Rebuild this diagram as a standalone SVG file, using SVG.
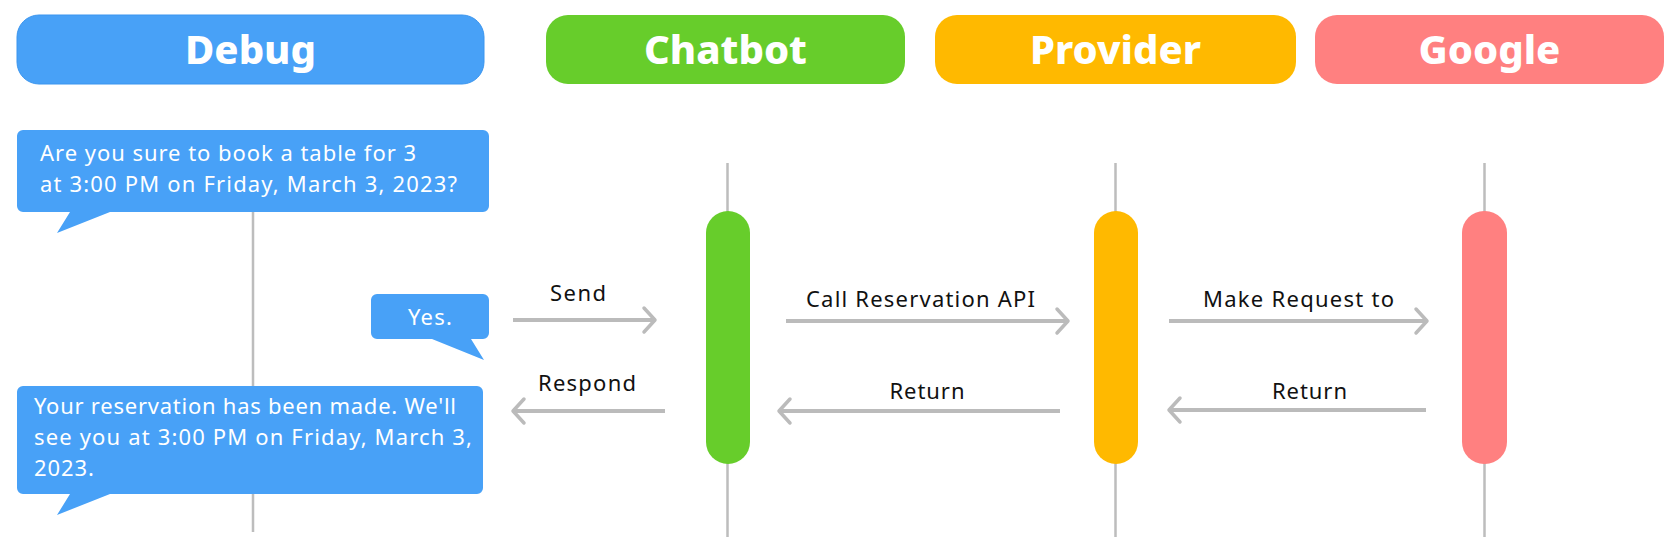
<svg xmlns="http://www.w3.org/2000/svg" width="1680" height="557" viewBox="0 0 1680 557">
<defs>
<marker id="arr" markerUnits="userSpaceOnUse" markerWidth="30" markerHeight="30" viewBox="-15 -15 30 30" refX="0" refY="0" orient="auto">
<path d="M-11,-12 L0,0 L-11,12" fill="none" stroke="#bbbbbb" stroke-width="3.5" stroke-linecap="round" stroke-linejoin="round"/>
</marker>
</defs>
<style>
.hdr{font-family:"Noto Sans","Open Sans",sans-serif;font-weight:800;font-size:40px;fill:#fff;text-anchor:middle}
.bt{font-family:"Noto Sans","Open Sans",sans-serif;font-size:22px;fill:#fff}
.lbl{font-family:"Noto Sans","Open Sans",sans-serif;font-size:22px;fill:#111;text-anchor:middle}
.life{stroke:#bdbdbd;stroke-width:2.5}
.conn{stroke:#bbbbbb;stroke-width:4;fill:none;marker-end:url(#arr)}
.blue{fill:#48a1f7}
</style>
<rect width="1680" height="557" fill="#fff"/>
<g id="lifelines">
<line class="life" x1="253" y1="212" x2="253" y2="532"/>
<line class="life" x1="727.5" y1="163" x2="727.5" y2="537"/>
<line class="life" x1="1115.5" y1="163" x2="1115.5" y2="537"/>
<line class="life" x1="1484.5" y1="163" x2="1484.5" y2="537"/>
</g>
<g id="debug">
<rect x="17" y="15" width="467" height="69" rx="22" fill="#48a1f7" stroke="#3a95ef" stroke-width="1"/>
<text class="hdr" x="250.5" y="64">Debug</text>
</g>
<g id="chatbot">
<rect x="546" y="15" width="359" height="69" rx="22" fill="#67cd2b"/>
<text class="hdr" x="725.5" y="64">Chatbot</text>
<rect x="706" y="211" width="44" height="253" rx="22" fill="#67cd2b"/>
</g>
<g id="provider">
<rect x="935" y="15" width="361" height="69" rx="22" fill="#ffb900"/>
<text class="hdr" x="1115.5" y="64">Provider</text>
<rect x="1094" y="211" width="44" height="253" rx="22" fill="#ffb900"/>
</g>
<g id="google">
<rect x="1315" y="15" width="349" height="69" rx="22" fill="#ff8080"/>
<text class="hdr" x="1489.5" y="64">Google</text>
<rect x="1462" y="211" width="45" height="253" rx="22" fill="#ff8080"/>
</g>
<g id="bubble-confirm">
<path class="blue" d="M23,130 H483 A6,6 0 0 1 489,136 V206 A6,6 0 0 1 483,212 H110 L57,233 L70,212 H23 A6,6 0 0 1 17,206 V136 A6,6 0 0 1 23,130 Z"/>
<text class="bt" x="40" y="161" textLength="376">Are you sure to book a table for 3</text>
<text class="bt" x="40" y="192" textLength="417">at 3:00 PM on Friday, March 3, 2023?</text>
</g>
<g id="bubble-yes">
<path class="blue" d="M377,294 H483 A6,6 0 0 1 489,300 V333 A6,6 0 0 1 483,339 H471 L484,360 L432,339 H377 A6,6 0 0 1 371,333 V300 A6,6 0 0 1 377,294 Z"/>
<text class="bt" x="430" y="325" text-anchor="middle" textLength="44">Yes.</text>
</g>
<g id="bubble-reply">
<path class="blue" d="M23,386 H477 A6,6 0 0 1 483,392 V488 A6,6 0 0 1 477,494 H110 L57,515 L70,494 H23 A6,6 0 0 1 17,488 V392 A6,6 0 0 1 23,386 Z"/>
<text class="bt" x="34" y="414" textLength="422">Your reservation has been made. We'll</text>
<text class="bt" x="34" y="445" textLength="438">see you at 3:00 PM on Friday, March 3,</text>
<text class="bt" x="34" y="476" textLength="60">2023.</text>
</g>
<g id="connectors">
<line class="conn" x1="513" y1="320" x2="655" y2="320"/>
<text class="lbl" x="578" y="301" textLength="56">Send</text>
<line class="conn" x1="665" y1="411" x2="513" y2="411"/>
<text class="lbl" x="587" y="391" textLength="98">Respond</text>
<line class="conn" x1="786" y1="321" x2="1068" y2="321"/>
<text class="lbl" x="920.5" y="307" textLength="229">Call Reservation API</text>
<line class="conn" x1="1060" y1="411" x2="779" y2="411"/>
<text class="lbl" x="927" y="399" textLength="75">Return</text>
<line class="conn" x1="1169" y1="321" x2="1427" y2="321"/>
<text class="lbl" x="1298.5" y="307" textLength="191">Make Request to</text>
<line class="conn" x1="1426" y1="410" x2="1169" y2="410"/>
<text class="lbl" x="1309.5" y="399" textLength="75">Return</text>
</g>
</svg>
